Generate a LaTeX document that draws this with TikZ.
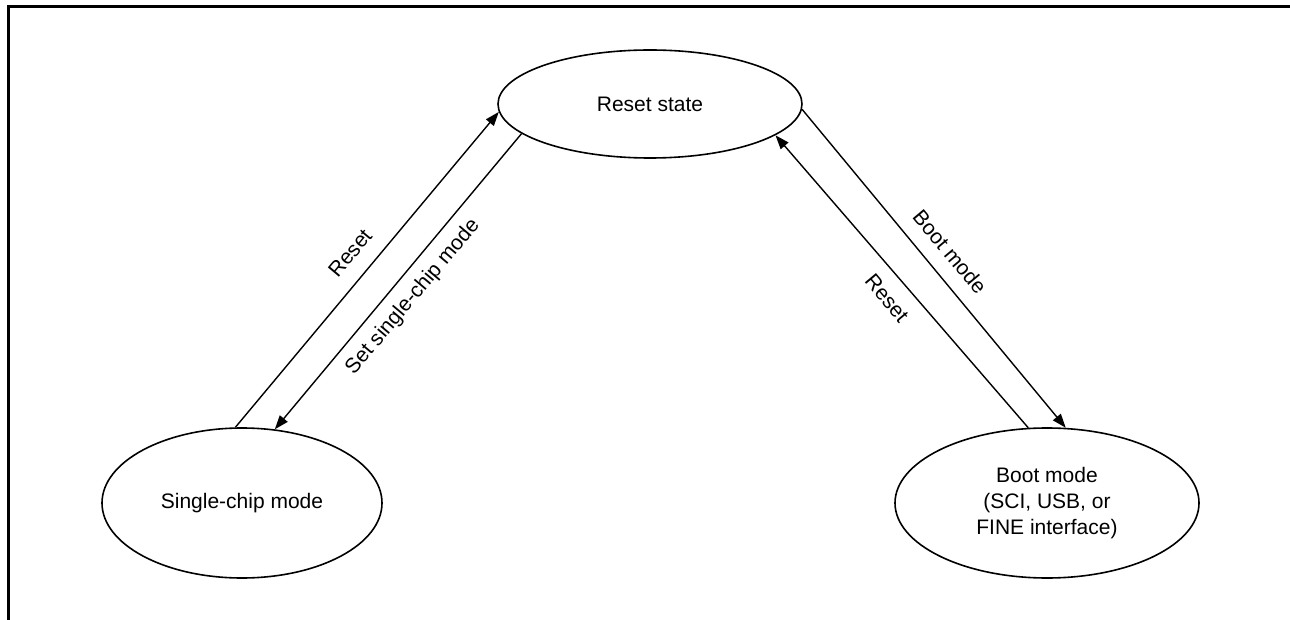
\documentclass[tikz,border=0pt]{standalone}
\usepackage{fontspec}
\setmainfont{Liberation Sans}
\usetikzlibrary{shapes.geometric,arrows.meta}
\tikzset{
  state/.style={draw, ellipse, line width=1.6pt, inner sep=0pt, align=center,
    font=\fontsize{21}{26}\selectfont},
  trans/.style={line width=1.4pt, -{Triangle[length=14pt,width=10pt]}},
  lbl/.style={inner sep=0pt, font=\fontsize{21}{26}\selectfont},
  frameline/.style={line width=3pt}
}
\begin{document}
\begin{tikzpicture}[x=1pt,y=-1pt]
\useasboundingbox (0,0) rectangle (1290,620);
\draw[frameline] (8.5,620) -- (8.5,6.5) -- (1290,6.5);

\node[state, minimum width=304pt, minimum height=108pt] (reset) at (650,104) {Reset state};
\node[state, minimum width=280pt, minimum height=150pt] (single) at (242,503) {Single-chip mode};
\node[state, minimum width=304pt, minimum height=150pt] (boot) at (1047,503) {Boot mode\\(SCI, USB, or\\FINE interface)};

\draw[trans] (single.95) -- (reset.183);
\draw[trans] (reset.193) -- (single.66.5);
\draw[trans] (reset.358) -- (boot.76.7);
\draw[trans] (boot.104.8) -- (reset.346.6);

\node[lbl, rotate=50] (l1) at (350,253) {Reset};
\node[lbl, rotate=50] (l2) at (413,297) {Set single-chip mode};
\node[lbl, rotate=-50] (l3) at (950,252) {Boot mode};
\node[lbl, rotate=-50] (l4) at (887,298) {Reset};
\end{tikzpicture}
\end{document}
